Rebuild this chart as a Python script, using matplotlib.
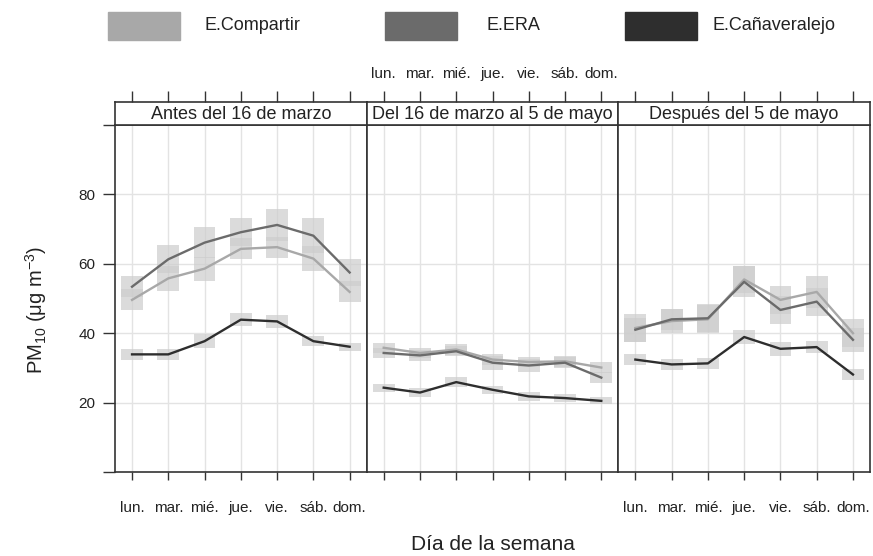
"""Weekly PM10 profile per station, three periods (openair-like timeVariation)."""

import matplotlib

matplotlib.use("Agg")
import matplotlib.pyplot as plt
from matplotlib.patches import Rectangle

plt.rcParams["font.family"] = ["Liberation Sans", "DejaVu Sans"]
plt.rcParams["mathtext.fontset"] = "custom"
plt.rcParams["mathtext.rm"] = "Liberation Sans"
plt.rcParams["mathtext.it"] = "Liberation Sans"

days = ["lun.", "mar.", "mié.", "jue.", "vie.", "sáb.", "dom."]
periods = ["Antes del 16 de marzo", "Del 16 de marzo al 5 de mayo", "Después del 5 de mayo"]
stations = ["E.Compartir", "E.ERA", "E.Cañaveralejo"]

# mean PM10 per weekday, one list per period
compartir = [
    [49.6, 55.8, 58.6, 64.3, 64.8, 61.5, 51.9],
    [35.8, 34.3, 35.3, 32.4, 31.7, 31.9, 30.1],
    [41.5, 43.5, 44.0, 55.5, 49.6, 51.9, 40.0],
]
era = [
    [53.4, 61.3, 66.1, 69.1, 71.2, 68.1, 57.5],
    [34.3, 33.6, 34.8, 31.5, 30.7, 31.5, 27.2],
    [41.0, 44.0, 44.3, 54.8, 46.7, 49.1, 38.1],
]
canaveralejo = [
    [33.9, 33.9, 37.7, 43.9, 43.4, 37.7, 36.1],
    [24.3, 22.9, 25.9, 23.7, 21.8, 21.3, 20.5],
    [32.4, 31.0, 31.3, 38.9, 35.5, 36.0, 28.1],
]

# half-height of the 95% interval boxes
compartir_ci = [
    [3.0, 3.5, 3.5, 3.0, 3.0, 3.5, 3.0],
    [1.5, 1.5, 1.5, 1.5, 1.5, 1.5, 1.5],
    [4.0, 3.5, 4.0, 4.0, 4.0, 4.5, 4.0],
]
era_ci = [
    [3.0, 4.0, 4.5, 4.0, 4.5, 5.0, 4.0],
    [1.5, 1.5, 1.5, 2.0, 2.0, 1.5, 1.5],
    [3.5, 3.0, 4.0, 4.5, 4.0, 4.0, 3.5],
]
canaveralejo_ci = [
    [1.5, 1.5, 2.0, 1.8, 1.8, 1.5, 1.2],
    [1.2, 1.2, 1.5, 1.2, 1.2, 1.2, 1.0],
    [1.5, 1.5, 1.5, 2.0, 2.0, 1.8, 1.5],
]

colors = ["#a8a8a8", "#6b6b6b", "#2e2e2e"]
box_color = "#cdcdcd"
grid_color = "#e3e3e3"
text_color = "#222222"

W, H = 873, 556
fig = plt.figure(figsize=(W / 100, H / 100), dpi=100)


def fx(px):
    return px / W


def fy(py):
    return 1 - py / H


left, right = 115, 870
top, bottom = 125, 472
strip_h = 23
pw = (right - left) / 3
x = list(range(1, 8))

for i, period in enumerate(periods):
    ax = fig.add_axes([fx(left + i * pw), fy(bottom), fx(pw), (bottom - top) / H])
    series = [
        (compartir[i], compartir_ci[i], colors[0]),
        (era[i], era_ci[i], colors[1]),
        (canaveralejo[i], canaveralejo_ci[i], colors[2]),
    ]
    for vals, ci, col in series:
        lo = [v - c for v, c in zip(vals, ci)]
        hi = [2 * c for c in ci]
        ax.bar(x, hi, bottom=lo, width=0.6, color=box_color, alpha=0.7, lw=0, zorder=2)
    for vals, ci, col in series:
        ax.plot(x, vals, color=col, lw=1.7, zorder=3)

    ax.set_xlim(0.53, 7.47)
    ax.set_ylim(0, 100)
    ax.set_xticks(x)
    ax.set_yticks([0, 20, 40, 60, 80, 100])
    for v in [20, 40, 60, 80]:
        ax.axhline(v, color=grid_color, lw=1, zorder=1)
    for d in x:
        ax.axvline(d, color=grid_color, lw=1, zorder=1)
    for s in ax.spines.values():
        s.set_color("#333333")
        s.set_linewidth(1.2)
    ax.tick_params(axis="x", direction="out", length=6, width=1, color="#333333",
                   labelsize=11, labelcolor=text_color, pad=15)
    if i == 1:
        ax.tick_params(axis="x", labelbottom=False)
    else:
        ax.set_xticklabels(days)
    if i == 0:
        ax.tick_params(axis="y", direction="out", length=9, width=1, color="#333333",
                       labelsize=11, labelcolor=text_color, pad=5)
        ax.set_yticklabels(["", "20", "40", "60", "80", ""])
    else:
        ax.tick_params(axis="y", left=False, labelleft=False)

    # strip with period title, top ticks above it
    sx = fig.add_axes([fx(left + i * pw), fy(top), fx(pw), strip_h / H])
    sx.set_xlim(0.53, 7.47)
    sx.set_ylim(0, 1)
    sx.set_yticks([])
    sx.set_xticks(x)
    sx.tick_params(axis="x", bottom=False, labelbottom=False, top=True,
                   direction="out", length=8, width=1, color="#333333",
                   labelsize=11, labelcolor=text_color, pad=7)
    if i == 1:
        sx.tick_params(axis="x", labeltop=True)
        sx.set_xticklabels(days)
    for s in sx.spines.values():
        s.set_color("#333333")
        s.set_linewidth(1.2)
    sx.text(0.5, 0.45, period, transform=sx.transAxes, ha="center", va="center",
            fontsize=13, color=text_color)

fig.text(fx(36), fy(310), "PM$_{10}$ ($\\mathregular{\\mu}$g m$^{-3}$)", rotation=90,
         ha="center", va="center", fontsize=14.5, color=text_color)
fig.text(fx(493), fy(545), "Día de la semana", ha="center", va="center",
         fontsize=15, color=text_color)

# legend drawn as boxes on top
legend_boxes = [108, 385, 625]
legend_text = [205, 487, 712]
for bx, tx, col, name in zip(legend_boxes, legend_text, colors, stations):
    fig.patches.append(Rectangle((fx(bx), fy(40)), fx(72), 28 / H, color=col,
                                 transform=fig.transFigure, figure=fig))
    fig.text(fx(tx), fy(25), name, ha="left", va="center", fontsize=13,
             color=text_color)

fig.savefig("out.png", dpi=100)
